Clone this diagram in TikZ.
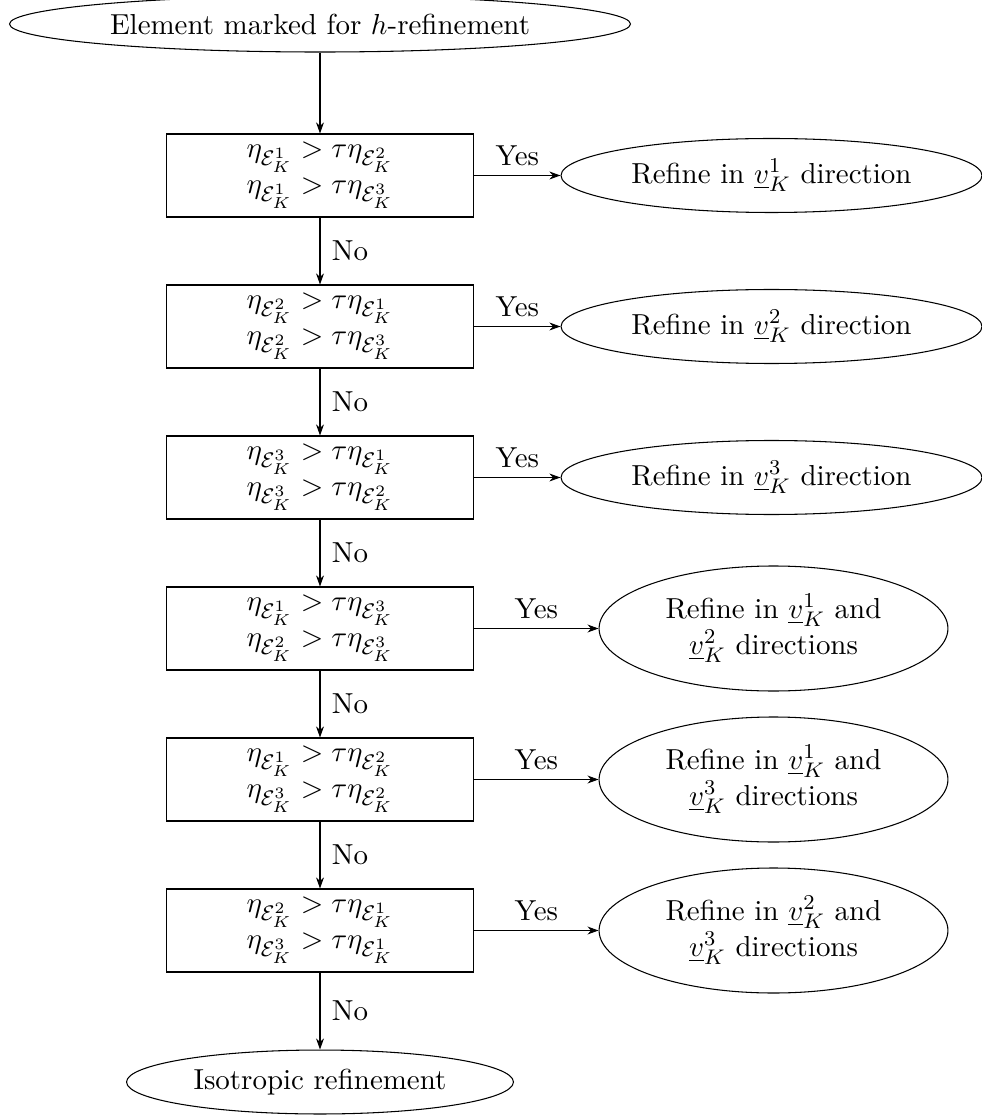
\documentclass[tikz,border=0pt]{standalone}
\usepackage{amsmath}
\usetikzlibrary{shapes.geometric,arrows.meta}
\begin{document}
\begin{tikzpicture}[x=0.3784pt,y=-0.3784pt,
  every node/.style={font=\fontsize{10.95}{13.6}\selectfont},
  arr/.style={-{Stealth[length=4.2pt,width=3pt]}, line width=0.4pt},
  startend/.style={ellipse, draw, line width=0.4pt, inner sep=0pt, minimum width=235pt, minimum height=21.2pt},
  isoell/.style={ellipse, draw, line width=0.4pt, inner sep=0pt, minimum width=146.4pt, minimum height=24.2pt},
  testbox/.style={rectangle, draw, line width=0.4pt, inner sep=0pt, minimum width=116.2pt, minimum height=31.4pt, align=center},
  oneell/.style={ellipse, draw, line width=0.4pt, inner sep=0pt, minimum width=159.3pt, minimum height=28pt},
  twoell/.style={ellipse, draw, line width=0.4pt, inner sep=0pt, minimum width=132pt, minimum height=47.3pt, align=center},
  lab/.style={inner sep=3.3pt}
]
\useasboundingbox (0,0) rectangle (982,1115);

\node[startend] (top) at (320,24) {Element marked for $h$-refinement};

\node[testbox] (b1) at (320,175.5) {$\eta_{\mathcal{E}_K^1} > \tau\eta_{\mathcal{E}_K^2}$\\ $\eta_{\mathcal{E}_K^1} > \tau\eta_{\mathcal{E}_K^3}$};
\node[testbox] (b2) at (320,326.5) {$\eta_{\mathcal{E}_K^2} > \tau\eta_{\mathcal{E}_K^1}$\\ $\eta_{\mathcal{E}_K^2} > \tau\eta_{\mathcal{E}_K^3}$};
\node[testbox] (b3) at (320,477.5) {$\eta_{\mathcal{E}_K^3} > \tau\eta_{\mathcal{E}_K^1}$\\ $\eta_{\mathcal{E}_K^3} > \tau\eta_{\mathcal{E}_K^2}$};
\node[testbox] (b4) at (320,628.5) {$\eta_{\mathcal{E}_K^1} > \tau\eta_{\mathcal{E}_K^3}$\\ $\eta_{\mathcal{E}_K^2} > \tau\eta_{\mathcal{E}_K^3}$};
\node[testbox] (b5) at (320,779.5) {$\eta_{\mathcal{E}_K^1} > \tau\eta_{\mathcal{E}_K^2}$\\ $\eta_{\mathcal{E}_K^3} > \tau\eta_{\mathcal{E}_K^2}$};
\node[testbox] (b6) at (320,930.5) {$\eta_{\mathcal{E}_K^2} > \tau\eta_{\mathcal{E}_K^1}$\\ $\eta_{\mathcal{E}_K^3} > \tau\eta_{\mathcal{E}_K^1}$};

\node[isoell] (iso) at (320,1082) {Isotropic refinement};

\node[oneell] (r1) at (771.5,175.5) {Refine in $\underline{v}_K^1$ direction};
\node[oneell] (r2) at (771.5,326.5) {Refine in $\underline{v}_K^2$ direction};
\node[oneell] (r3) at (771.5,477.5) {Refine in $\underline{v}_K^3$ direction};
\node[twoell] (r4) at (773.5,628.5) {Refine in $\underline{v}_K^1$ and\\ $\underline{v}_K^2$ directions};
\node[twoell] (r5) at (773.5,779.5) {Refine in $\underline{v}_K^1$ and\\ $\underline{v}_K^3$ directions};
\node[twoell] (r6) at (773.5,930.5) {Refine in $\underline{v}_K^2$ and\\ $\underline{v}_K^3$ directions};

\draw[arr] (top) -- (b1);
\draw[arr] (b1) -- node[lab, right, xshift=1pt] (n1) {No} (b2);
\draw[arr] (b2) -- node[lab, right, xshift=1pt] (n2) {No} (b3);
\draw[arr] (b3) -- node[lab, right, xshift=1pt] (n3) {No} (b4);
\draw[arr] (b4) -- node[lab, right, xshift=1pt] (n4) {No} (b5);
\draw[arr] (b5) -- node[lab, right, xshift=1pt] (n5) {No} (b6);
\draw[arr] (b6) -- node[lab, right, xshift=1pt] (n6) {No} (iso);

\draw[arr] (b1) -- node[lab, above] (y1) {Yes} (r1);
\draw[arr] (b2) -- node[lab, above] (y2) {Yes} (r2);
\draw[arr] (b3) -- node[lab, above] (y3) {Yes} (r3);
\draw[arr] (b4) -- node[lab, above] (y4) {Yes} (r4);
\draw[arr] (b5) -- node[lab, above] (y5) {Yes} (r5);
\draw[arr] (b6) -- node[lab, above] (y6) {Yes} (r6);
\end{tikzpicture}
\end{document}
